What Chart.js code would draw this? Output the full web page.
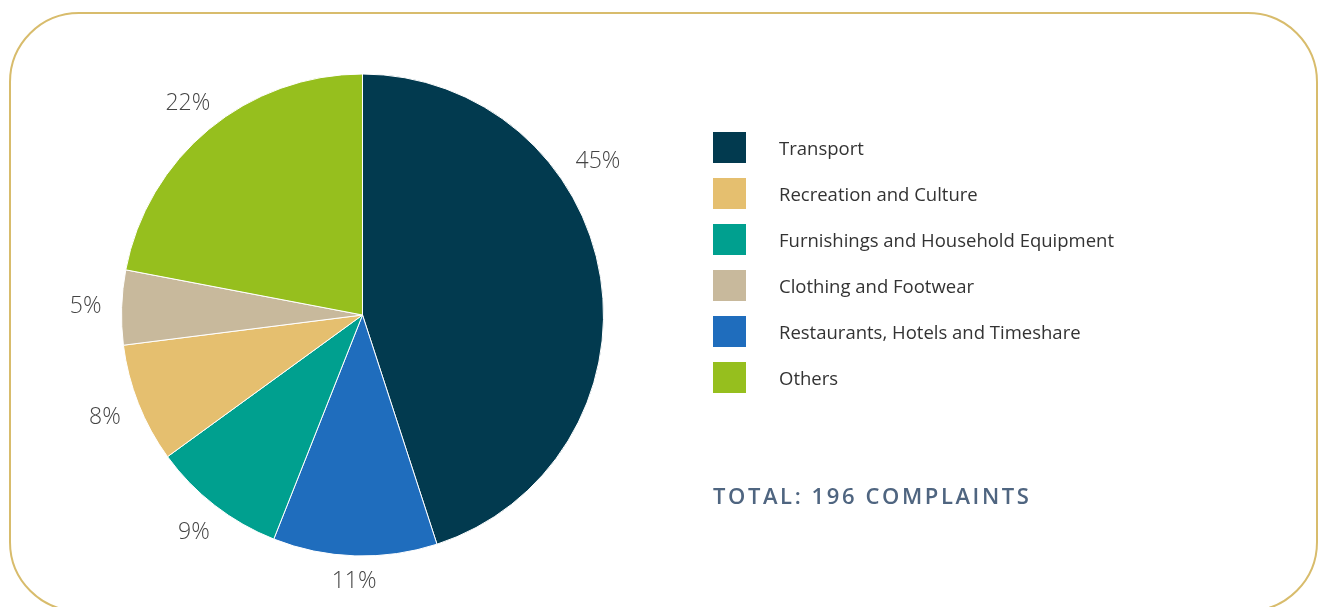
<!DOCTYPE html>
<html>
<head>
<meta charset="utf-8">
<script src="https://cdn.jsdelivr.net/npm/chart.js@4.4.1/dist/chart.umd.min.js"></script>
<style>
  html, body { margin: 0; padding: 0; background: #fff; }
  body { width: 1323px; height: 607px; position: relative; overflow: hidden; font-family: "Open Sans", sans-serif; }
  #frame {
    position: absolute; left: 9px; top: 12px; width: 1309px; height: 600px;
    border: 2.5px solid #d8bc6c; border-radius: 70px; box-sizing: border-box;
  }
  #wrap { position: absolute; left: 0; top: 0; width: 724px; height: 607px; }
  #legend { position: absolute; left: 713px; top: 132px; }
  .row { height: 46px; display: flex; align-items: flex-start; }
  .box { width: 33px; height: 31px; margin-right: 33px; }
  .lbl { font-size: 18.5px; color: #333; line-height: 31px; letter-spacing: 0px; }
  #total {
    position: absolute; left: 713px; top: 480px; font-size: 22px; font-weight: 600;
    color: #4f6580; letter-spacing: 2.6px;
  }
</style>
</head>
<body>
<div id="frame"></div>
<div id="wrap"><canvas id="pie" width="724" height="607"></canvas></div>
<div id="legend"></div>
<div id="total">TOTAL: 196 COMPLAINTS</div>
<script>
// slices clockwise from 12 o'clock
const categories = ['Transport', 'Restaurants, Hotels and Timeshare', 'Furnishings and Household Equipment',
  'Recreation and Culture', 'Clothing and Footwear', 'Others'];
const shares = [45, 11, 9, 8, 5, 22];
const colors = ['#023a4f', '#1f6dbd', '#00a08f', '#e5bf6f', '#c8b99c', '#96bf1e'];
// legend lists the categories in this order
const legendOrder = ['Transport', 'Recreation and Culture', 'Furnishings and Household Equipment',
  'Clothing and Footwear', 'Restaurants, Hotels and Timeshare', 'Others'];

// percent labels just outside the rim, on each slice's middle angle
const outsideLabels = {
  id: 'outsideLabels',
  afterDatasetsDraw(chart, args, opts) {
    const ctx = chart.ctx;
    const meta = chart.getDatasetMeta(0);
    ctx.save();
    ctx.font = '300 23px "Open Sans"';
    ctx.fillStyle = '#444';
    ctx.textAlign = 'center';
    ctx.textBaseline = 'middle';
    meta.data.forEach((arc, i) => {
      const p = arc.getProps(['x', 'y', 'startAngle', 'endAngle', 'outerRadius'], true);
      let a = (p.startAngle + p.endAngle) / 2;
      if (opts.shift && opts.shift[i]) a += opts.shift[i];
      const r = p.outerRadius + (opts.gap[i] || 34);
      ctx.fillText(shares[i] + '%', p.x + Math.cos(a) * r, p.y + Math.sin(a) * r);
    });
    ctx.restore();
  }
};

const chart = new Chart(document.getElementById('pie'), {
  type: 'pie',
  data: {
    labels: categories,
    datasets: [{
      data: shares,
      backgroundColor: colors,
      borderColor: '#fff',
      borderWidth: 1
    }]
  },
  options: {
    responsive: false,
    animation: false,
    layout: { padding: { left: 121, right: 120, top: 73, bottom: 50 } },
    plugins: {
      legend: { display: false },
      tooltip: { enabled: false },
      outsideLabels: { shift: [-0.42, 0, 0, 0, 0, 0], gap: [40, 26, 34, 36, 36, 33] }
    }
  },
  plugins: [outsideLabels]
});

// html legend
const legend = document.getElementById('legend');
legendOrder.forEach(name => {
  const i = categories.indexOf(name);
  const row = document.createElement('div');
  row.className = 'row';
  row.innerHTML = '<div class="box" style="background:' + colors[i] + '"></div><div class="lbl">' + name + '</div>';
  legend.appendChild(row);
});
</script>
</body>
</html>
